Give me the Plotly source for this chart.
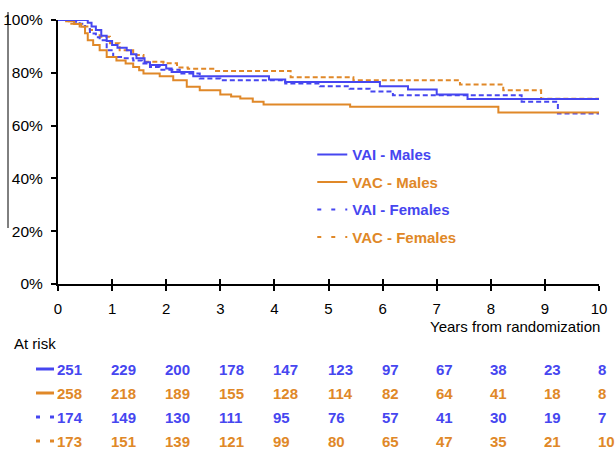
import plotly.graph_objects as go

BLUE = "rgb(70,70,240)"
ORANGE = "rgb(224,136,40)"

# ---- data ----
vai_m_t = [0, 0.55, 0.62, 0.7, 0.8, 0.9, 1.0, 1.1, 1.27, 1.35, 1.45, 1.6, 1.7, 2.0, 2.1, 2.5, 3.9, 4.2, 5.95, 6.47, 7.0, 7.57, 10]
vai_m_s = [100, 99, 97.5, 96.2, 94, 92, 90.5, 89.5, 88.5, 87, 85.5, 84, 83, 81.6, 80.3, 78.7, 77.5, 76.5, 74.9, 73.7, 71.8, 70.1, 70.1]

vac_m_t = [0, 0.15, 0.3, 0.43, 0.5, 0.55, 0.65, 0.77, 0.9, 1.08, 1.25, 1.39, 1.5, 1.58, 1.88, 2.13, 2.38, 2.62, 3.0, 3.2, 3.37, 3.6, 3.8, 5.4, 8.14, 10]
vac_m_s = [100, 99.5, 98.5, 97.4, 95, 92.3, 90.5, 88.5, 86, 84.7, 83.5, 82.2, 81, 79.7, 78.7, 77.2, 74.7, 73.4, 71.8, 71, 70.3, 69, 68, 67.1, 65, 65]

vai_f_t = [0, 0.3, 0.4, 0.5, 0.59, 0.7, 0.77, 0.9, 1.02, 1.2, 1.39, 1.55, 1.7, 1.88, 2.25, 2.62, 3.0, 4.2, 4.84, 5.39, 5.76, 6.19, 8.57, 9.24, 10]
vai_f_s = [100, 99.3, 98.6, 96.5, 94.9, 93.5, 92.3, 88.5, 86, 85.5, 84.7, 83.5, 82.2, 81.2, 79.7, 77.8, 77.2, 75.9, 74.9, 74.0, 72.9, 71.5, 69.0, 64.6, 64.6]

vac_f_t = [0, 0.2, 0.4, 0.59, 0.77, 0.96, 1.14, 1.39, 1.58, 1.95, 2.2, 2.4, 2.87, 4.3, 5.46, 7.43, 8.23, 8.93, 10]
vac_f_s = [100, 98.6, 97.5, 96.2, 93.7, 91.2, 88.5, 86.7, 84.2, 83.6, 82.0, 81.5, 80.7, 78.3, 77.2, 75.6, 73.4, 70.2, 70.2]

years = [0, 1, 2, 3, 4, 5, 6, 7, 8, 9, 10]
risk_vai_m = [251, 229, 200, 178, 147, 123, 97, 67, 38, 23, 8]
risk_vac_m = [258, 218, 189, 155, 128, 114, 82, 64, 41, 18, 8]
risk_vai_f = [174, 149, 130, 111, 95, 76, 57, 41, 30, 19, 7]
risk_vac_f = [173, 151, 139, 121, 99, 80, 65, 47, 35, 21, 10]

series = [
    ("VAI - Males", vai_m_t, vai_m_s, BLUE, "solid", risk_vai_m),
    ("VAC - Males", vac_m_t, vac_m_s, ORANGE, "solid", risk_vac_m),
    ("VAI - Females", vai_f_t, vai_f_s, BLUE, "5px,3px", risk_vai_f),
    ("VAC - Females", vac_f_t, vac_f_s, ORANGE, "5px,3px", risk_vac_f),
]

fig = go.Figure()
# curves (drawn in reverse so solid lines sit on top)
for name, t, s, col, dash, _ in reversed(series):
    fig.add_trace(go.Scatter(x=t, y=s, mode="lines", line=dict(color=col, width=2, dash=dash, shape="hv"),
                             showlegend=False, hoverinfo="skip"))
# legend entries
for i, (name, t, s, col, dash, _) in enumerate(series):
    ldash = "solid" if dash == "solid" else "4px,10px"
    fig.add_trace(go.Scatter(x=[None], y=[None], mode="lines",
                             line=dict(color=col, width=2, dash=ldash),
                             name=f'<b><span style="color:{col}">{name}</span></b>',
                             legendgroup=f"g{i}", showlegend=True))

# overlay axis to give crossing x-axis ticks
fig.add_trace(go.Scatter(x=[0, 10], y=[None, None], xaxis="x2", showlegend=False, hoverinfo="skip"))

font = "Liberation Sans, Arial, sans-serif"
PW, PH = 541, 264  # plot area size in px (used for paper-coordinate offsets)

fig.update_layout(
    width=615, height=450,
    margin=dict(l=58, r=16, t=20, b=166, autoexpand=False),
    paper_bgcolor="white", plot_bgcolor="white",
    font=dict(family=font, size=15, color="black"),
    xaxis=dict(range=[0, 10], tickvals=years, ticktext=[str(y) for y in years],
               showgrid=False, zeroline=False, showline=True, linecolor="black", linewidth=2,
               ticks="outside", ticklen=5, tickwidth=2, tickcolor="black", automargin=False,
               ticklabelstandoff=5, tickfont=dict(size=15), fixedrange=True),
    xaxis2=dict(range=[0, 10], overlaying="x", tickvals=years, showticklabels=False,
                showgrid=False, zeroline=False, showline=False, automargin=False,
                ticks="inside", ticklen=5, tickwidth=2, tickcolor="black", side="bottom"),
    yaxis=dict(range=[0, 100], tickvals=[0, 20, 40, 60, 80, 100],
               ticktext=["0%", "20%", "40%", "60%", "80%", "100%"],
               showgrid=False, zeroline=False, showline=True, linecolor="black", linewidth=2,
               ticks="outside", ticklen=5, tickwidth=2, tickcolor="black", automargin=False,
               ticklabelstandoff=5, tickfont=dict(size=15.5)),
    legend=dict(x=0.47, y=0.552, xanchor="left", yanchor="top", bgcolor="rgba(0,0,0,0)",
                font=dict(size=15, family=font), tracegroupgap=5, itemwidth=30),
    showlegend=True,
)

annotations = [
    dict(text="Years from randomization", x=1.005, xref="paper", y=(284 - 326) / PH, yref="paper",
         xanchor="right", yanchor="middle", showarrow=False, font=dict(size=15)),
    dict(text="At risk", x=-0.085, xref="paper", y=(284 - 343) / PH, yref="paper",
         xanchor="left", yanchor="middle", showarrow=False, font=dict(size=15)),
]
row_px = [369, 393, 417, 441]
shapes = []
for (name, t, s, col, dash, risk), ypx in zip(series, row_px):
    yp = (284 - ypx) / PH
    for yr, n in zip(years, risk):
        annotations.append(dict(text=f"<b>{n}</b>", x=yr, xref="x", y=yp, yref="paper",
                                xanchor="left", yanchor="middle", xshift=-3, showarrow=False,
                                font=dict(size=15, color=col)))
    segs = [(-22, -4)] if dash == "solid" else [(-22, -18), (-8, -4)]
    for a, b in segs:
        shapes.append(dict(type="line", xref="paper", yref="paper", x0=a / PW, x1=b / PW,
                           y0=yp, y1=yp, line=dict(color=col, width=3)))

# stray vertical rule at the far left of the reference image
shapes.append(dict(type="line", xref="paper", yref="paper", x0=-50 / PW, x1=-50 / PW,
                   y0=(284 - 12) / PH, y1=(284 - 228) / PH, line=dict(color="black", width=1)))

fig.update_layout(annotations=annotations, shapes=shapes)
fig.write_html("out.html")
